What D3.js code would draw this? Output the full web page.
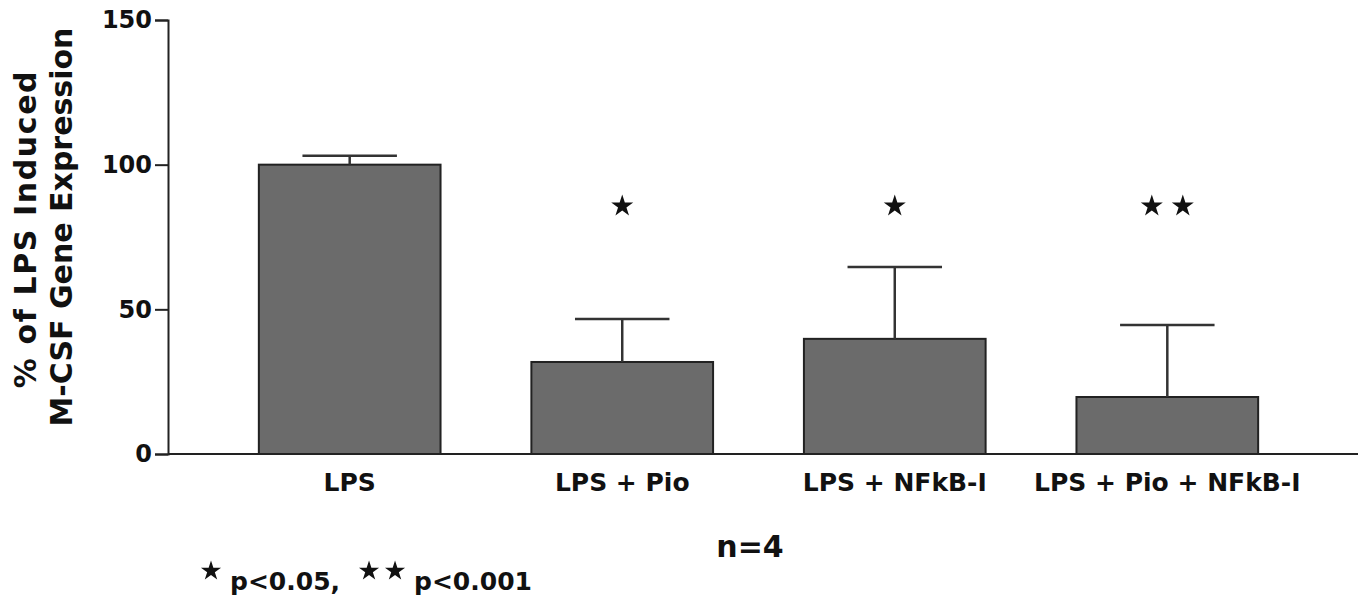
<!DOCTYPE html>
<html>
<head>
<meta charset="utf-8">
<script src="https://cdn.jsdelivr.net/npm/d3@7"></script>
<style>
  html, body { margin: 0; padding: 0; background: #ffffff; }
  svg { display: block; }
  text { font-family: "DejaVu Sans", "Liberation Sans", Arial, sans-serif; font-weight: bold; fill: #111; }
</style>
</head>
<body>
<svg id="chart" width="1358" height="608"></svg>
<script>
// ---- data ----
const categories = ["LPS", "LPS + Pio", "LPS + NFkB-I", "LPS + Pio + NFkB-I"];
const means = [100, 31.8, 39.8, 19.7];
const errors = [3.1, 14.9, 24.8, 24.9];
const starCounts = [0, 1, 1, 2];
const starLevel = 86;
const yTicks = [0, 50, 100, 150];
const yTitleLines = ["% of LPS Induced", "M-CSF Gene Expression"];
const nLabel = "n=4";
const legendItems = [
  { stars: 1, text: "p<0.05," },
  { stars: 2, text: "p<0.001" }
];

// ---- layout ----
const svg = d3.select("#chart");
const x0 = 168, yBase = 454, yTop = 20;
const x = d3.scaleBand().domain(categories).range([x0, 1349]).padding(1 / 3);
const y = d3.scaleLinear().domain([0, 150]).range([yBase, yTop]);

// y axis
const yAxis = d3.axisLeft(y).tickValues(yTicks).tickSize(13).tickPadding(3);
const gy = svg.append("g").attr("transform", `translate(${x0},0)`).call(yAxis);
gy.select(".domain").attr("stroke", "#222").attr("stroke-width", 2);
gy.selectAll(".tick line").attr("stroke", "#222").attr("stroke-width", 2);
gy.selectAll(".tick text").attr("font-size", 24).attr("font-family", "DejaVu Sans").attr("font-weight", "bold").attr("fill", "#111");

// x baseline
svg.append("line").attr("x1", x0).attr("x2", 1358).attr("y1", y(0)).attr("y2", y(0))
  .attr("stroke", "#222").attr("stroke-width", 2);

// bars
const data = categories.map((c, i) => ({ c, m: means[i], e: errors[i], s: starCounts[i] }));
svg.append("g").selectAll("rect").data(data).join("rect")
  .attr("x", d => x(d.c)).attr("width", x.bandwidth())
  .attr("y", d => y(d.m)).attr("height", d => y(0) - y(d.m))
  .attr("fill", "#6b6b6b").attr("stroke", "#222").attr("stroke-width", 2);

// error bars
const eg = svg.append("g").attr("stroke", "#333").attr("stroke-width", 2.5);
data.forEach(d => {
  const cx = x(d.c) + x.bandwidth() / 2;
  const capW = x.bandwidth() * 0.52;
  eg.append("line").attr("x1", cx).attr("x2", cx).attr("y1", y(d.m)).attr("y2", y(d.m + d.e));
  eg.append("line").attr("x1", cx - capW / 2).attr("x2", cx + capW / 2).attr("y1", y(d.m + d.e)).attr("y2", y(d.m + d.e));
});

// significance stars
const star = d3.symbol().type(d3.symbolStar).size(150);
data.forEach(d => {
  const cx = x(d.c) + x.bandwidth() / 2;
  for (let k = 0; k < d.s; k++) {
    const off = (k - (d.s - 1) / 2) * 31;
    svg.append("path").attr("d", star()).attr("fill", "#111")
      .attr("transform", `translate(${cx + off},${y(starLevel) + 1})`);
  }
});

// x labels
svg.append("g").selectAll("text").data(categories).join("text")
  .attr("x", d => x(d) + x.bandwidth() / 2).attr("y", 491)
  .attr("text-anchor", "middle").attr("font-size", 25).text(d => d);

// y title
yTitleLines.forEach((t, i) => {
  svg.append("text")
    .attr("transform", `translate(${25 + i * 36},${229 - i * 2}) rotate(-90)`)
    .attr("text-anchor", "middle").attr("dominant-baseline", "central")
    .attr("font-size", 30).attr("letter-spacing", i === 0 ? 1.6 : 0).text(t);
});

// n label
svg.append("text").attr("x", 750).attr("y", 557).attr("text-anchor", "middle")
  .attr("font-size", 30).text(nLabel);

// legend
const smallStar = d3.symbol().type(d3.symbolStar).size(125);
let lx = 202;
legendItems.forEach((it, i) => {
  for (let k = 0; k < it.stars; k++) {
    svg.append("path").attr("d", smallStar()).attr("fill", "#111")
      .attr("transform", `translate(${lx + 9 + k * 26},571)`);
  }
  const tx = lx + 9 + (it.stars - 1) * 26 + 19;
  const t = svg.append("text").attr("x", tx).attr("y", 590).attr("font-size", 25).text(it.text);
  lx = tx + t.node().getComputedTextLength() + 20;
});
</script>
</body>
</html>
